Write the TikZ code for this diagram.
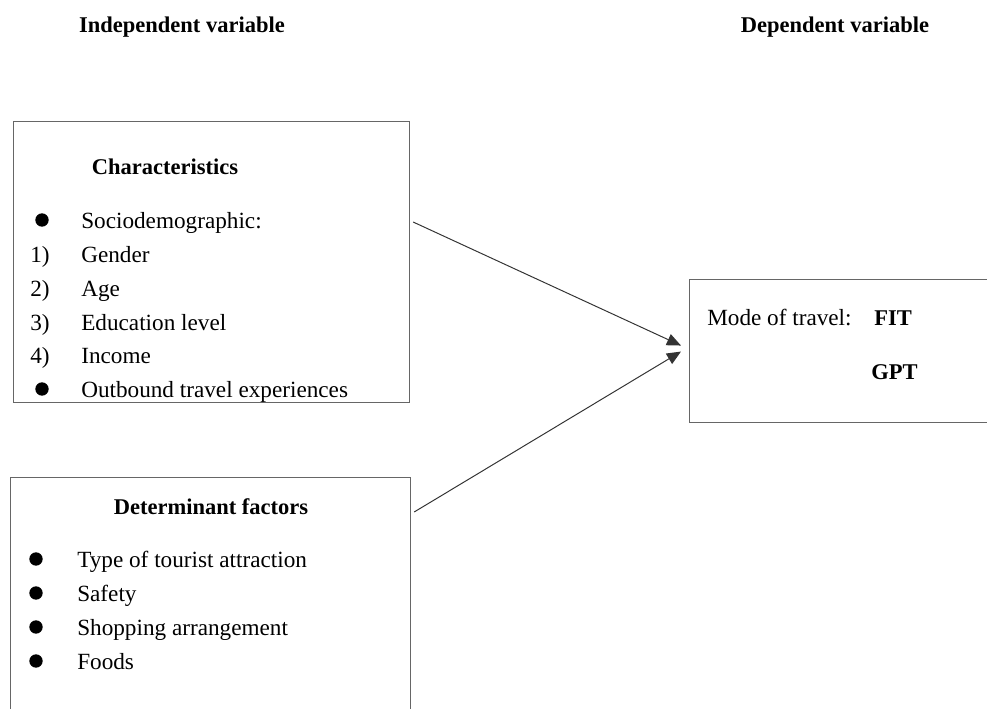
\documentclass[tikz,border=0pt]{standalone}
\usepackage{fontspec}
\setmainfont{Liberation Serif}
\usetikzlibrary{arrows.meta,positioning}
\tikzset{
  box/.style={draw=black!60, line width=0.9pt, inner sep=0pt, anchor=north west},
  head/.style={inner sep=0pt, font=\fontsize{16}{19}\selectfont\bfseries},
  item/.style={anchor=west, inner sep=0pt, text height=13.5pt, text depth=2pt,
    font=\fontsize{16.5}{19}\selectfont},
  dot/.style={circle, fill=black, inner sep=0pt, minimum size=9.5pt},
  link/.style={draw=black!80, line width=0.7pt, -{Triangle[length=10pt,width=8.5pt]}}
}
\begin{document}
\begin{tikzpicture}[x=0.025cm,y=-0.025cm]
   \useasboundingbox (0,0) rectangle (987,709);
   \clip (0,0) rectangle (987,709);
   % headings
   \node[head] (indep) at (182,27) {Independent variable};
   \node[head] (dep) at (835,27) {Dependent variable};
   % boxes
   \node[box, minimum width=9.9cm, minimum height=7.025cm] (chars) at (13,121) {};
   \node[box, minimum width=10cm, minimum height=6.2cm] (factors) at (10,477) {};
   \node[box, minimum width=7.8cm, minimum height=3.575cm] (mode) at (689,279) {};
   % characteristics
   \node[head] (charstitle) at (165,167) {Characteristics};
   \node[dot] (d1) at (42,220) {};
   \node[item] (socio) at (81,220) {Sociodemographic:};
   \node[item] (n1) at (30,254) {1)};
   \node[item] (gender) at (81,254) {Gender};
   \node[item] (n2) at (30,288) {2)};
   \node[item] (age) at (81,288) {Age};
   \node[item] (n3) at (30,322) {3)};
   \node[item] (edu) at (81,322) {Education level};
   \node[item] (n4) at (30,355) {4)};
   \node[item] (income) at (81,355) {Income};
   \node[dot] (d2) at (42,389) {};
   \node[item] (outbound) at (81,389) {Outbound travel experiences};
   % determinant factors
   \node[head] (factorstitle) at (211,507) {Determinant factors};
   \node[dot] (d3) at (36,559) {};
   \node[item] (attr) at (77,559) {Type of tourist attraction};
   \node[dot] (d4) at (36,593) {};
   \node[item] (safety) at (77,593) {Safety};
   \node[dot] (d5) at (36,627) {};
   \node[item] (shop) at (77,627) {Shopping arrangement};
   \node[dot] (d6) at (36,661) {};
   \node[item] (foods) at (77,661) {Foods};
   % mode of travel
   \node[item] (modetext) at (707,317) {Mode of travel:};
   \node[item, font=\fontsize{16}{19}\selectfont\bfseries] (fit) at (874,317) {FIT};
   \node[item, font=\fontsize{16}{19}\selectfont\bfseries] (gpt) at (871,371) {GPT};
   % arrows
   \draw[link] ([yshift=-2.525cm,xshift=2pt]chars.north east) -- ([xshift=-0.2cm,yshift=0.14cm]mode.west);
   \draw[link] ([yshift=-0.875cm,xshift=2pt]factors.north east) -- ([xshift=-0.2cm,yshift=-0.01cm]mode.west);
\end{tikzpicture}
\end{document}
